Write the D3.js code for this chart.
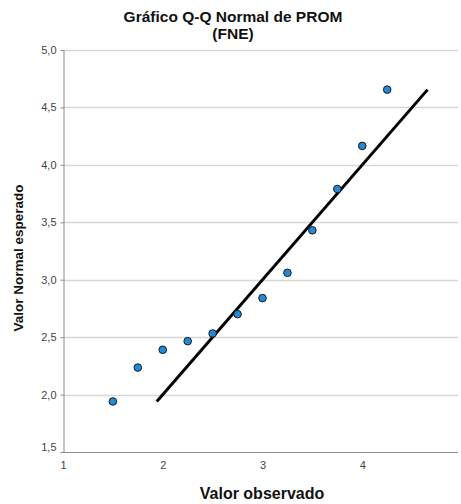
<!DOCTYPE html>
<html>
<head>
<meta charset="utf-8">
<script src="https://cdn.jsdelivr.net/npm/d3@7"></script>
<style>
  body { margin: 0; background: #fff; }
  svg { display: block; font-family: "Liberation Sans", Arial, sans-serif; }
</style>
</head>
<body>
<div id="chart"></div>
<script>
'use strict';

// 観測値と正規期待値
const observed = [1.5, 1.75, 2.0, 2.25, 2.5, 2.75, 3.0, 3.25, 3.5, 3.75, 4.0, 4.25];
const expected = [1.94, 2.235, 2.39, 2.465, 2.532, 2.70, 2.84, 3.06, 3.43, 3.79, 4.165, 4.655];
const xTicks = [1, 2, 3, 4];
const yTicks = [1.5, 2.0, 2.5, 3.0, 3.5, 4.0, 4.5, 5.0];

const width = 461;
const height = 504;
const plot = { left: 63, right: 458, top: 50, bottom: 452 };

const x = d3.scaleLinear().domain([1, 5]).range([plot.left, 462]);
const y = d3.scaleLinear().domain([1.5, 5]).range([plot.bottom, plot.top]);
const fmt = d => d3.format('.1f')(d).replace('.', ',');

const svg = d3.select('#chart').append('svg')
    .attr('width', width)
    .attr('height', height);

// タイトル
const title = svg.append('g')
    .attr('text-anchor', 'middle')
    .attr('font-size', '15.5px')
    .attr('font-weight', 'bold')
    .attr('fill', '#111');
title.append('text').attr('x', 233).attr('y', 22).text('Gráfico Q-Q Normal de PROM');
title.append('text').attr('x', 233).attr('y', 39).text('(FNE)');

// 横グリッド線
svg.append('g')
    .selectAll('line')
    .data(yTicks.slice(1))
    .join('line')
    .attr('x1', plot.left)
    .attr('x2', plot.right)
    .attr('y1', d => Math.round(y(d)) + 0.5)
    .attr('y2', d => Math.round(y(d)) + 0.5)
    .attr('stroke', '#d6d6d6')
    .attr('stroke-width', 1.5);

// Y軸
const yAxis = svg.append('g')
    .attr('transform', `translate(${plot.left + 0.5},0)`)
    .call(d3.axisLeft(y).tickValues(yTicks).tickFormat(fmt).tickSize(3).tickSizeOuter(0));
yAxis.select('.domain').attr('stroke', '#8a8a8a');
yAxis.selectAll('.tick line').attr('stroke', '#8a8a8a');
yAxis.selectAll('.tick text')
    .attr('font-family', '"Liberation Sans", Arial, sans-serif')
    .attr('font-size', '11px')
    .attr('fill', '#444')
    .attr('dx', '-1');
yAxis.selectAll('.tick')
    .filter(d => d === 1.5)
    .select('text')
    .attr('dy', '-0.1em');

// X軸
const xAxis = svg.append('g')
    .attr('transform', `translate(0,${plot.bottom + 0.5})`)
    .call(d3.axisBottom(x).tickValues(xTicks).tickFormat(d3.format('d')).tickSize(0).tickSizeOuter(0));
xAxis.select('.domain').attr('d', `M${plot.left},0H${plot.right}`).attr('stroke', '#8a8a8a');
xAxis.selectAll('.tick text')
    .attr('font-family', '"Liberation Sans", Arial, sans-serif')
    .attr('font-size', '11px')
    .attr('fill', '#444')
    .attr('dy', '1.25em');

// 基準線 (y = x)
const lo = d3.min(expected);
const hi = d3.max(expected);
svg.append('line')
    .attr('x1', x(lo))
    .attr('y1', y(lo))
    .attr('x2', x(hi))
    .attr('y2', y(hi))
    .attr('stroke', '#000')
    .attr('stroke-width', 3);

// 点
svg.append('g')
    .selectAll('circle')
    .data(observed.map((d, i) => ({ o: d, e: expected[i] })))
    .join('circle')
    .attr('cx', d => x(d.o))
    .attr('cy', d => y(d.e))
    .attr('r', 3.8)
    .attr('fill', '#1f8ad8')
    .attr('stroke', '#1a1a1a')
    .attr('stroke-width', 1);

// 軸ラベル
svg.append('text')
    .attr('x', 262)
    .attr('y', 499)
    .attr('text-anchor', 'middle')
    .attr('font-size', '16px')
    .attr('font-weight', 'bold')
    .attr('fill', '#111')
    .text('Valor observado');
svg.append('text')
    .attr('transform', 'translate(23,258) rotate(-90)')
    .attr('text-anchor', 'middle')
    .attr('font-size', '13.5px')
    .attr('font-weight', 'bold')
    .attr('fill', '#111')
    .text('Valor Normal esperado');
</script>
</body>
</html>
